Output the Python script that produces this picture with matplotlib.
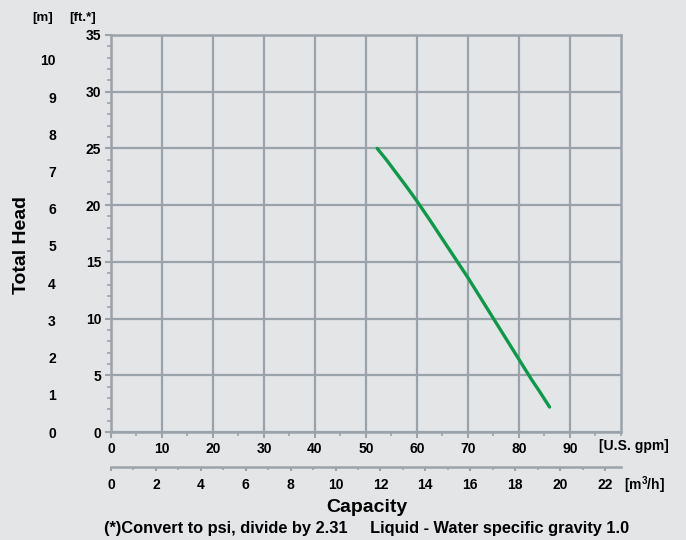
import matplotlib
matplotlib.use('Agg')
import matplotlib.pyplot as plt
from matplotlib.ticker import MultipleLocator

plt.rcParams['font.family'] = ['Liberation Sans', 'DejaVu Sans']
plt.rcParams['font.weight'] = 'bold'

# curve (capacity in U.S. gpm, head in ft)
flow_gpm = [52.2, 54, 56, 58, 60, 62.5, 65, 67.5, 70, 72.5, 75, 77.5, 80, 82.5, 84, 86]
head_ft = [25.0, 24.0, 22.8, 21.6, 20.35, 18.7, 17.0, 15.3, 13.6, 11.8, 10.0, 8.2, 6.4, 4.6, 3.6, 2.2]

GPM_PER_M3H = 4.403
FT_PER_M = 3.281

bg = '#e4e5e7'
grid_c = '#9ba3aa'
green = '#0a9a4a'

fig = plt.figure(figsize=(6.86, 5.4), dpi=100)
fig.patch.set_facecolor(bg)
ax = fig.add_axes([0.1618, 0.2, 0.7434, 0.7352])
ax.set_facecolor(bg)

ax.plot(flow_gpm, head_ft, color=green, lw=2.4, solid_capstyle='round',
        solid_joinstyle='round', zorder=3)

ax.set_xlim(0, 100)
ax.set_ylim(0, 35)
ax.xaxis.set_major_locator(MultipleLocator(10))
ax.xaxis.set_minor_locator(MultipleLocator(5))
ax.yaxis.set_major_locator(MultipleLocator(5))
ax.yaxis.set_minor_locator(MultipleLocator(1))
ax.grid(True, which='major', color=grid_c, lw=1.6)
ax.set_axisbelow(True)
for s in ax.spines.values():
    s.set_color(grid_c)
    s.set_linewidth(1.8)
ax.tick_params(which='both', colors=grid_c, labelcolor='black', labelsize=10)
ax.tick_params(which='major', length=4, width=1.5, pad=3)
ax.tick_params(which='minor', length=3, width=1.2)
ax.set_xticks(range(0, 100, 10))

# metric capacity axis
sec_x = ax.secondary_xaxis(-0.088, functions=(lambda g: g / GPM_PER_M3H, lambda m: m * GPM_PER_M3H))
sec_x.xaxis.set_major_locator(MultipleLocator(2))
sec_x.xaxis.set_minor_locator(MultipleLocator(1))
sec_x.set_xticks(range(0, 23, 2))
sec_x.spines['bottom'].set_color(grid_c)
sec_x.spines['bottom'].set_linewidth(1.8)
sec_x.tick_params(which='both', colors=grid_c, labelcolor='black', labelsize=10)
sec_x.tick_params(which='major', length=3, width=1.5, pad=5)
sec_x.tick_params(which='minor', length=2, width=1.2)

# metric head axis
sec_y = ax.secondary_yaxis(-0.108, functions=(lambda f: f / FT_PER_M, lambda m: m * FT_PER_M))
sec_y.set_yticks(range(0, 11))
sec_y.spines['left'].set_visible(False)
sec_y.tick_params(length=0, labelsize=10, pad=0)

ax.text(0.957, -0.036, '[U.S. gpm]', transform=ax.transAxes, ha='left', va='center',
        fontsize=10, fontweight='bold')
ax.text(1.006, -0.133, '[m$^\\mathregular{3}$/h]', transform=ax.transAxes, ha='left', va='center',
        fontsize=10, fontweight='bold')

fig.text(43 / 686, 1 - 18 / 540, '[m]', ha='center', va='center', fontsize=9.5, fontweight='bold')
fig.text(83 / 686, 1 - 18 / 540, '[ft.*]', ha='center', va='center', fontsize=9.5, fontweight='bold')
fig.text(22 / 686, 1 - 245 / 540, 'Total Head', rotation=90, ha='center', va='center',
         fontsize=14, fontweight='bold')
fig.text(367 / 686, 1 - 508 / 540, 'Capacity', ha='center', va='center', fontsize=14, fontweight='bold')
fig.text(367 / 686, 1 - 528 / 540,
         '(*)Convert to psi, divide by 2.31     Liquid - Water specific gravity 1.0',
         ha='center', va='center', fontsize=11.8, fontweight='bold')

fig.savefig('out.png', dpi=100, facecolor=bg)
